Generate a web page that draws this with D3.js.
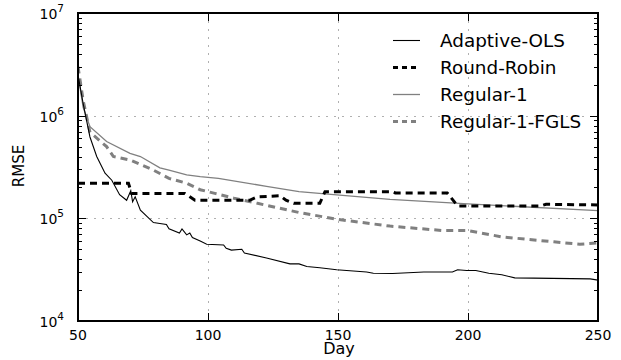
<!DOCTYPE html>
<html>
<head>
<meta charset="utf-8">
<script src="https://cdn.jsdelivr.net/npm/d3@7"></script>
<style>
  body { margin: 0; background: #fff; }
  svg text { font-family: "DejaVu Sans", sans-serif; }
</style>
</head>
<body>
<div id="target"></div>
<script>
// series data
const olsDays = [50, 52, 54.6, 57.2, 60.4, 63, 66, 68.7, 70.3, 71, 72, 74, 79, 81.5, 84, 85, 89, 90, 91.8, 93, 94, 97, 99.5, 106, 107, 109, 113, 114, 122.5, 131.5, 135, 138, 143, 149.5, 161, 163.6, 171, 183, 194, 196, 199.5, 203, 208, 213, 218, 247, 250]
const olsRmse = [2.5e6, 1.3e6, 6.2e5, 4.0e5, 2.75e5, 2.35e5, 1.7e5, 1.5e5, 1.86e5, 1.45e5, 1.62e5, 1.2e5, 9.1e4, 8.9e4, 8.7e4, 7.9e4, 7.2e4, 7.9e4, 6.9e4, 7.2e4, 6.5e4, 6.0e4, 5.6e4, 5.5e4, 5.1e4, 4.9e4, 5.0e4, 4.6e4, 4.1e4, 3.6e4, 3.6e4, 3.4e4, 3.3e4, 3.16e4, 3.0e4, 2.92e4, 2.9e4, 3.0e4, 3.0e4, 3.16e4, 3.1e4, 3.1e4, 2.92e4, 2.82e4, 2.63e4, 2.57e4, 2.5e4]

const rrDays = [50, 69.4, 70.6, 91, 95, 116, 119, 127.7, 130, 133, 143, 145, 171, 172, 192, 196, 228, 230, 250]
const rrRmse = [2.2e5, 2.2e5, 1.75e5, 1.75e5, 1.5e5, 1.5e5, 1.62e5, 1.66e5, 1.5e5, 1.4e5, 1.4e5, 1.82e5, 1.82e5, 1.77e5, 1.77e5, 1.32e5, 1.32e5, 1.37e5, 1.35e5]

const reg1Days = [50, 52, 54.6, 61, 70, 74, 81.5, 85, 91.8, 97, 104, 122.5, 135, 149.5, 170, 200, 250]
const reg1Rmse = [2.5e6, 1.2e6, 7.8e5, 5.6e5, 4.3e5, 4.0e5, 3.1e5, 2.95e5, 2.65e5, 2.55e5, 2.45e5, 2.05e5, 1.82e5, 1.69e5, 1.53e5, 1.38e5, 1.19e5]

const fglsDays = [50, 52, 54.6, 61, 63.6, 70, 79, 85, 91.8, 97, 103, 110, 119, 135, 149.5, 170, 190.5, 200, 213, 233, 243, 250]
const fglsRmse = [3.0e6, 1.4e6, 6.9e5, 5.0e5, 4.0e5, 3.7e5, 2.95e5, 2.45e5, 2.2e5, 1.9e5, 1.74e5, 1.57e5, 1.4e5, 1.14e5, 9.8e4, 8.4e4, 7.6e4, 7.6e4, 6.6e4, 5.9e4, 5.6e4, 5.75e4]

const seriesNames = ["Adaptive-OLS", "Round-Robin", "Regular-1", "Regular-1-FGLS"]
const xTicks = [50, 100, 150, 200, 250]
const yExponents = [4, 5, 6, 7]

const width = 621
const height = 360
const plotLeft = 78, plotRight = 598, plotTop = 13, plotBottom = 321

const svg = d3.select("#target").append("svg")
    .attr("width", width)
    .attr("height", height)

const x = d3.scaleLinear().domain([50, 250]).range([plotLeft, plotRight])
const y = d3.scaleLog().domain([1e4, 1e7]).range([plotBottom, plotTop])

//Grid
const grid = svg.append("g")
    .attr("stroke", "#b0b0b0")
    .attr("stroke-width", 1)
    .attr("stroke-dasharray", "2,6")

grid.selectAll("line.gx")
    .data(xTicks.slice(1, -1))
    .enter()
    .append("line")
    .attr("x1", d => x(d) + 0.5)
    .attr("x2", d => x(d) + 0.5)
    .attr("y1", plotTop)
    .attr("y2", plotBottom)

grid.selectAll("line.gy")
    .data(yExponents.slice(1, -1))
    .enter()
    .append("line")
    .attr("x1", plotLeft)
    .attr("x2", plotRight)
    .attr("y1", d => Math.round(y(Math.pow(10, d))) + 0.5)
    .attr("y2", d => Math.round(y(Math.pow(10, d))) + 0.5)

//Series
const series = [
    { name: seriesNames[0], days: olsDays, vals: olsRmse, color: "#000", width: 1.1, dash: null },
    { name: seriesNames[1], days: rrDays, vals: rrRmse, color: "#000", width: 3, dash: "7,5" },
    { name: seriesNames[2], days: reg1Days, vals: reg1Rmse, color: "#808080", width: 1.3, dash: null },
    { name: seriesNames[3], days: fglsDays, vals: fglsRmse, color: "#808080", width: 3, dash: "7,5" }
]

const line = d3.line()
    .x(d => x(d[0]))
    .y(d => y(d[1]))

svg.append("clipPath").attr("id", "clip")
    .append("rect").attr("x", plotLeft).attr("y", plotTop)
    .attr("width", plotRight - plotLeft).attr("height", plotBottom - plotTop)
const plot = svg.append("g").attr("clip-path", "url(#clip)")

series.slice().reverse().forEach(s => {
    plot.append("path")
        .attr("d", line(s.days.map((d, i) => [d, s.vals[i]])))
        .attr("fill", "none")
        .attr("stroke", s.color)
        .attr("stroke-width", s.width)
        .attr("stroke-dasharray", s.dash)
})

//Frame
svg.append("rect")
    .attr("x", plotLeft)
    .attr("y", plotTop)
    .attr("width", plotRight - plotLeft)
    .attr("height", plotBottom - plotTop)
    .attr("fill", "none")
    .attr("stroke", "#000")
    .attr("stroke-width", 2)

//Ticks
const ticks = svg.append("g").attr("stroke", "#000").attr("stroke-width", 1)

xTicks.slice(1, -1).forEach(t => {
    ticks.append("line").attr("x1", x(t) + 0.5).attr("x2", x(t) + 0.5).attr("y1", plotBottom).attr("y2", plotBottom - 8)
    ticks.append("line").attr("x1", x(t) + 0.5).attr("x2", x(t) + 0.5).attr("y1", plotTop).attr("y2", plotTop + 8)
})

const minorVals = []
yExponents.slice(0, -1).forEach(e => {
    for (let k = 2; k <= 9; k++) minorVals.push(k * Math.pow(10, e))
})
minorVals.forEach(v => {
    const yy = Math.round(y(v)) + 0.5
    ticks.append("line").attr("x1", plotLeft).attr("x2", plotLeft + 4).attr("y1", yy).attr("y2", yy)
    ticks.append("line").attr("x1", plotRight).attr("x2", plotRight - 4).attr("y1", yy).attr("y2", yy)
})
yExponents.forEach(e => {
    const yy = Math.round(y(Math.pow(10, e))) + 0.5
    ticks.append("line").attr("x1", plotLeft).attr("x2", plotLeft + 8).attr("y1", yy).attr("y2", yy)
    ticks.append("line").attr("x1", plotRight).attr("x2", plotRight - 8).attr("y1", yy).attr("y2", yy)
})

//Tick labels
svg.selectAll("text.xt")
    .data(xTicks)
    .enter()
    .append("text")
    .attr("x", d => x(d))
    .attr("y", 340)
    .attr("text-anchor", "middle")
    .attr("font-size", 14)
    .text(d => d)

yExponents.forEach(e => {
    const t = svg.append("text")
        .attr("x", 64)
        .attr("y", y(Math.pow(10, e)) + 6)
        .attr("text-anchor", "end")
        .attr("font-size", 14)
    t.append("tspan").text("10")
    t.append("tspan").attr("dy", -7).attr("font-size", 10.5).text(e)
})

//Axis labels
svg.append("text")
    .attr("x", 339)
    .attr("y", 354)
    .attr("text-anchor", "middle")
    .attr("font-size", 16)
    .text("Day")

svg.append("text")
    .attr("transform", "translate(24,166) rotate(-90)")
    .attr("text-anchor", "middle")
    .attr("font-size", 15)
    .text("RMSE")

//Legend
const legend = svg.append("g")
series.forEach((s, i) => {
    const ly = 40.5 + i * 27
    legend.append("line")
        .attr("x1", 393).attr("x2", 420)
        .attr("y1", ly).attr("y2", ly)
        .attr("stroke", s.color)
        .attr("stroke-width", s.width)
        .attr("stroke-dasharray", s.dash ? "5,4" : null)
    legend.append("text")
        .attr("x", 440)
        .attr("y", ly + 6.5)
        .attr("font-size", 18.4)
        .text(s.name)
})
</script>
</body>
</html>
